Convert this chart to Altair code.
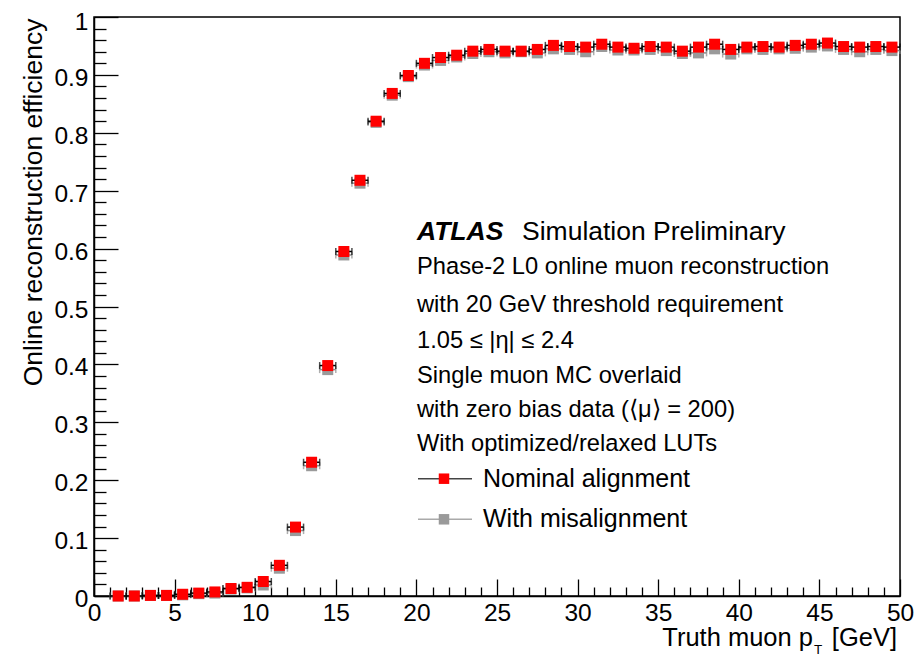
import altair as alt
import pandas as pd

# ---------------- data ----------------
pt_centers = [1.5, 2.5, 3.5, 4.5, 5.5, 6.5, 7.5, 8.5, 9.5, 10.5,
              11.5, 12.5, 13.5, 14.5, 15.5, 16.5, 17.5, 18.5, 19.5, 20.5,
              21.5, 22.5, 23.5, 24.5, 25.5, 26.5, 27.5, 28.5, 29.5, 30.5,
              31.5, 32.5, 33.5, 34.5, 35.5, 36.5, 37.5, 38.5, 39.5, 40.5,
              41.5, 42.5, 43.5, 44.5, 45.5, 46.5, 47.5, 48.5, 49.5]
pt_half_width = 0.5

eff_nominal = [0.000, 0.000, 0.001, 0.001, 0.003, 0.005, 0.007, 0.013, 0.015, 0.025,
               0.053, 0.119, 0.231, 0.398, 0.595, 0.718, 0.820, 0.868, 0.899, 0.920,
               0.930, 0.934, 0.941, 0.944, 0.941, 0.941, 0.944, 0.951, 0.949, 0.948,
               0.953, 0.948, 0.946, 0.949, 0.948, 0.941, 0.948, 0.953, 0.944, 0.948,
               0.949, 0.948, 0.951, 0.953, 0.955, 0.949, 0.948, 0.949, 0.948]

eff_misaligned = [0.000, 0.000, 0.001, 0.001, 0.002, 0.004, 0.005, 0.012, 0.014, 0.019,
                  0.048, 0.113, 0.225, 0.391, 0.589, 0.713, 0.818, 0.865, 0.897, 0.917,
                  0.925, 0.931, 0.937, 0.940, 0.938, 0.940, 0.938, 0.945, 0.944, 0.940,
                  0.949, 0.943, 0.943, 0.944, 0.942, 0.937, 0.938, 0.945, 0.936, 0.945,
                  0.944, 0.945, 0.946, 0.948, 0.950, 0.944, 0.940, 0.944, 0.942]

series_names = ["With misalignment", "Nominal alignment"]
series_marker_colors = ["#9a9a9a", "#ff0000"]
series_bar_colors = ["#8c8c8c", "#000000"]
series_legend_line_colors = ["#aaaaaa", "#444444"]

x_major_ticks = [0, 5, 10, 15, 20, 25, 30, 35, 40, 45, 50]
x_minor_ticks = [1, 2, 3, 4, 6, 7, 8, 9, 11, 12, 13, 14, 16, 17, 18, 19, 21, 22, 23, 24,
                 26, 27, 28, 29, 31, 32, 33, 34, 36, 37, 38, 39, 41, 42, 43, 44, 46, 47, 48, 49]
y_major_ticks = [0, 0.1, 0.2, 0.3, 0.4, 0.5, 0.6, 0.7, 0.8, 0.9, 1.0]
y_minor_ticks = [0.02, 0.04, 0.06, 0.08, 0.12, 0.14, 0.16, 0.18, 0.22, 0.24, 0.26, 0.28,
                 0.32, 0.34, 0.36, 0.38, 0.42, 0.44, 0.46, 0.48, 0.52, 0.54, 0.56, 0.58,
                 0.62, 0.64, 0.66, 0.68, 0.72, 0.74, 0.76, 0.78, 0.82, 0.84, 0.86, 0.88,
                 0.92, 0.94, 0.96, 0.98]

x_title_main = "Truth muon p"
x_title_sub = "T"
x_title_unit = "[GeV]"
y_title = "Online reconstruction efficiency"

atlas_label = "ATLAS"
atlas_suffix = "Simulation Preliminary"
info_lines = ["Phase-2 L0 online muon reconstruction",
              "with 20 GeV threshold requirement",
              "1.05 \u2264 |\u03b7| \u2264 2.4",
              "Single muon MC overlaid",
              "with zero bias data (\u27e8\u03bc\u27e9 = 200)",
              "With optimized/relaxed LUTs"]
legend_labels = ["Nominal alignment", "With misalignment"]

# ---------------- build table ----------------
rows = []
for name, vals in zip(series_names, [eff_misaligned, eff_nominal]):
    for c, v in zip(pt_centers, vals):
        rows.append({"series": name, "pt": c, "lo": c - pt_half_width,
                     "hi": c + pt_half_width, "eff": v})
df = pd.DataFrame(rows)

W, H = 806, 579
FONT = "Liberation Sans"

xs = alt.Scale(domain=[0, 50], nice=False, zero=False)
ys = alt.Scale(domain=[0, 1], nice=False, zero=False)


def axis_layer(xaxis, yaxis):
    return alt.Chart(df).mark_point(opacity=0).encode(
        x=alt.X("pt:Q", scale=xs, axis=xaxis),
        y=alt.Y("eff:Q", scale=ys, axis=yaxis),
    )


label_x_axis = alt.Axis(orient="bottom", values=x_major_ticks, ticks=False, tickSize=0,
                        domain=True, domainColor="black", domainWidth=1.5,
                        labelFontSize=24.5, labelFont=FONT, labelColor="black",
                        labelPadding=5, labelFlush=False, labelOverlap=False,
                        grid=False, title=None, format="d")
label_y_axis = alt.Axis(orient="left", values=y_major_ticks, ticks=False, tickSize=0,
                        domain=True, domainColor="black", domainWidth=1.5,
                        labelFontSize=24.5, labelFont=FONT, labelColor="black",
                        labelPadding=6,
                        labelOffset={"condition": {"test": "datum.value >= 0.99", "value": 5.5},
                                     "value": 3.5},
                        labelFlush=False,
                        labelOverlap=False, grid=False, format=".1~f",
                        title=y_title, titleFont=FONT, titleFontSize=26.5,
                        titleFontWeight="normal", titleColor="black",
                        titleAngle=270, titleAlign="right", titleBaseline="middle",
                        titleX=-61, titleY=1)


def tick_axis(orient, values, size):
    return alt.Axis(orient=orient, values=values, offset=-size, tickSize=size,
                    tickColor="black", tickWidth=1.3, labels=False, domain=False,
                    grid=False, title=None)


layers = [
    axis_layer(label_x_axis, label_y_axis),
    axis_layer(tick_axis("bottom", x_major_ticks, 17), tick_axis("left", y_major_ticks, 24)),
    axis_layer(tick_axis("bottom", x_minor_ticks, 9), tick_axis("left", y_minor_ticks, 12)),
]

for name, mcol, bcol in zip(series_names, series_marker_colors, series_bar_colors):
    sub = alt.Chart(df).transform_filter(alt.datum.series == name)
    layers.append(
        sub.mark_errorbar(color=bcol, ticks={"size": 7, "thickness": 1.5},
                          rule={"strokeWidth": 1.5}).encode(
            x=alt.X("lo:Q", scale=xs, axis=None),
            x2="hi:Q",
            y=alt.Y("eff:Q", scale=ys, axis=None),
        )
    )
    layers.append(
        sub.mark_square(size=121, color=mcol, opacity=1, strokeWidth=0).encode(
            x=alt.X("pt:Q", scale=xs, axis=None),
            y=alt.Y("eff:Q", scale=ys, axis=None),
        )
    )


def text_at(txt, px, py, size=24, align="left", baseline="alphabetic",
            weight="normal", style="normal"):
    return alt.Chart(pd.DataFrame({"t": [txt]})).mark_text(
        align=align, baseline=baseline, font=FONT, fontSize=size,
        fontWeight=weight, fontStyle=style, color="black",
    ).encode(text="t:N", x=alt.value(px), y=alt.value(py))


# ATLAS label and info block
layers.append(text_at(atlas_label, 323, 223, size=26.5, weight="bold", style="italic"))
layers.append(text_at(atlas_suffix, 428, 223, size=26.5))
info_baselines = [257, 294.7, 331, 366, 399.7, 433.7]
for line, b in zip(info_lines, info_baselines):
    layers.append(text_at(line, 323, b, size=23.7))

# manual legend
legend_rows = [
    {"label": legend_labels[0], "line": series_legend_line_colors[1],
     "marker": series_marker_colors[1], "ym": 461.7, "yt": 470},
    {"label": legend_labels[1], "line": series_legend_line_colors[0],
     "marker": series_marker_colors[0], "ym": 502.3, "yt": 509.7},
]
for r in legend_rows:
    one = alt.Chart(pd.DataFrame({"k": [0]}))
    layers.append(one.mark_rule(color=r["line"], strokeWidth=1.5).encode(
        x=alt.value(324), x2=alt.value(378), y=alt.value(r["ym"])))
    layers.append(one.mark_square(size=110, color=r["marker"], opacity=1).encode(
        x=alt.value(350), y=alt.value(r["ym"])))
    layers.append(text_at(r["label"], 389, r["yt"], size=25))

# x-axis title with subscript
layers.append(text_at(x_title_main, 719, 629, size=25.5, align="right"))
layers.append(text_at(x_title_sub, 724, 637, size=13.5, align="center"))
layers.append(text_at(x_title_unit, 803, 629, size=25.5, align="right"))

chart = alt.layer(*layers).resolve_axis(
    x="independent", y="independent"
).properties(
    width=W, height=H,
    autosize=alt.AutoSizeParams(type="none"),
    padding={"left": 86, "top": 9, "right": 16, "bottom": 60},
    background="white",
).configure_view(
    stroke="black", strokeWidth=1.5
)

chart.save("out.html", embed_options={"renderer": "svg", "actions": False})
